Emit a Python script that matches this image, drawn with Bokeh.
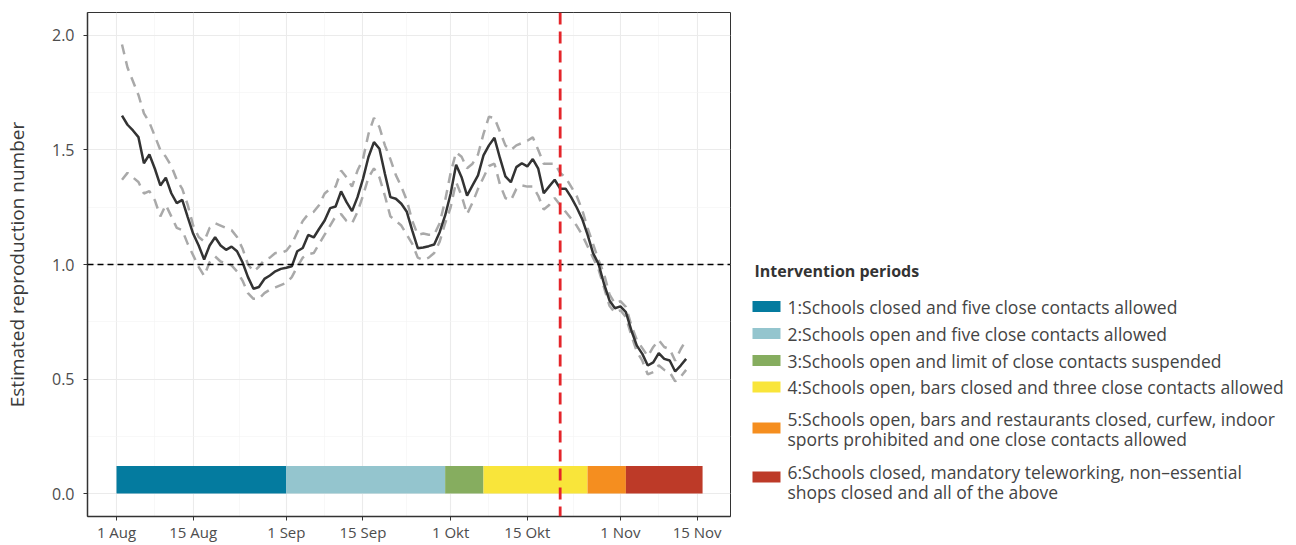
import pandas as pd
from bokeh.plotting import figure
from bokeh.models import Range1d, FixedTicker, Span, NumeralTickFormatter
from bokeh.layouts import row
from bokeh.embed import file_html
from bokeh.resources import INLINE
from bokeh.core.properties import value

# ---------------- data ----------------
origin = "2020-08-01"
first_date = "2020-08-02"

rt_mean = [
    1.650, 1.610, 1.585, 1.556, 1.442, 1.480, 1.418, 1.345, 1.379, 1.311,
    1.268, 1.282, 1.207, 1.134, 1.083, 1.022, 1.083, 1.119, 1.083, 1.064,
    1.078, 1.058, 1.010, 0.945, 0.894, 0.902, 0.937, 0.952, 0.970, 0.981,
    0.986, 0.992, 1.058, 1.072, 1.129, 1.118, 1.156, 1.192, 1.246, 1.253,
    1.319, 1.272, 1.233, 1.294, 1.374, 1.469, 1.534, 1.505, 1.396, 1.294,
    1.287, 1.265, 1.230, 1.148, 1.071, 1.074, 1.080, 1.087, 1.141, 1.214,
    1.309, 1.435, 1.381, 1.301, 1.345, 1.389, 1.476, 1.520, 1.553, 1.465,
    1.385, 1.359, 1.425, 1.442, 1.428, 1.460, 1.418, 1.311, 1.341, 1.370,
    1.331, 1.331, 1.294, 1.250, 1.200, 1.130, 1.050, 1.003, 0.916, 0.843,
    0.809, 0.817, 0.792, 0.712, 0.646, 0.610, 0.559, 0.573, 0.613, 0.588,
    0.581, 0.533, 0.559, 0.588,
]

rt_upper = [
    1.96, 1.86, 1.80, 1.74, 1.66, 1.62, 1.56, 1.50, 1.47, 1.43,
    1.37, 1.33, 1.26, 1.17, 1.12, 1.10, 1.16, 1.18, 1.17, 1.16,
    1.15, 1.12, 1.07, 1.00, 0.97, 0.99, 1.02, 1.03, 1.05, 1.05,
    1.06, 1.09, 1.14, 1.19, 1.22, 1.23, 1.26, 1.31, 1.33, 1.34,
    1.41, 1.38, 1.34, 1.41, 1.46, 1.57, 1.64, 1.60, 1.52, 1.46,
    1.39, 1.34, 1.28, 1.19, 1.13, 1.135, 1.13, 1.13, 1.18, 1.28,
    1.40, 1.49, 1.47, 1.42, 1.44, 1.48, 1.57, 1.645, 1.64, 1.58,
    1.52, 1.50, 1.52, 1.53, 1.54, 1.555, 1.50, 1.44, 1.44, 1.44,
    1.40, 1.38, 1.34, 1.30, 1.24, 1.16, 1.09, 1.02, 0.96, 0.87,
    0.83, 0.84, 0.815, 0.735, 0.67, 0.635, 0.60, 0.64, 0.67, 0.64,
    0.63, 0.58, 0.63, 0.67,
]

rt_lower = [
    1.37, 1.40, 1.38, 1.36, 1.31, 1.32, 1.28, 1.21, 1.26, 1.21,
    1.16, 1.15, 1.09, 1.04, 0.99, 0.95, 1.01, 1.035, 1.013, 1.005,
    0.996, 0.97, 0.93, 0.875, 0.85, 0.85, 0.875, 0.89, 0.90, 0.91,
    0.92, 0.945, 0.99, 1.03, 1.045, 1.05, 1.09, 1.13, 1.17, 1.21,
    1.22, 1.19, 1.18, 1.23, 1.30, 1.38, 1.42, 1.38, 1.30, 1.21,
    1.19, 1.17, 1.13, 1.09, 1.03, 1.02, 1.03, 1.05, 1.10, 1.18,
    1.25, 1.36, 1.30, 1.22, 1.27, 1.33, 1.38, 1.43, 1.44, 1.35,
    1.29, 1.28, 1.33, 1.345, 1.34, 1.34, 1.30, 1.24, 1.26, 1.29,
    1.26, 1.23, 1.20, 1.17, 1.13, 1.08, 1.03, 0.98, 0.90, 0.82,
    0.79, 0.80, 0.77, 0.69, 0.62, 0.58, 0.52, 0.53, 0.56, 0.54,
    0.53, 0.49, 0.51, 0.54,
]

period_labels = [
    "1:Schools closed and five close contacts allowed",
    "2:Schools open and five close contacts allowed",
    "3:Schools open and limit of close contacts suspended",
    "4:Schools open, bars closed and three close contacts allowed",
    "5:Schools open, bars and restaurants closed, curfew, indoor\nsports prohibited and one close contacts allowed",
    "6:Schools closed, mandatory teleworking, non\u2013essential\nshops closed and all of the above",
]
period_colors = ["#047b9f", "#94c5ce", "#86ad5f", "#f9e53a", "#f58e1f", "#bd3a28"]
period_start = ["2020-08-01", "2020-09-01", "2020-09-30", "2020-10-07", "2020-10-26", "2020-11-02"]
period_end = ["2020-09-01", "2020-09-30", "2020-10-07", "2020-10-26", "2020-11-02", "2020-11-16"]
period_bar_height = 0.12

tick_dates = ["2020-08-01", "2020-08-15", "2020-09-01", "2020-09-15",
              "2020-10-01", "2020-10-15", "2020-11-01", "2020-11-15"]
tick_labels = ["1 Aug", "15 Aug", "1 Sep", "15 Sep", "1 Okt", "15 Okt", "1 Nov", "15 Nov"]
marker_date = "2020-10-21"
reference_level = 1.0

# ---------------- helpers ----------------
t0 = pd.Timestamp(origin)


def day(s):
    return (pd.Timestamp(s) - t0).days


dates = pd.date_range(first_date, periods=len(rt_mean), freq="D")
xs = [(d - t0).days for d in dates]

major_x = [day(t) for t in tick_dates]
minor_x = [(a + b) / 2 for a, b in zip(major_x[:-1], major_x[1:])]

FONT = "Open Sans"
TXT = "#4d4d4d"
H = 545
TOP, BOTTOM = 12, 29

p = figure(width=748, height=H,
           x_range=Range1d(-5.3, 112.1), y_range=Range1d(-0.1, 2.1),
           output_backend="svg", toolbar_location=None,
           min_border_left=83, min_border_right=18,
           min_border_top=TOP, min_border_bottom=BOTTOM)

p.background_fill_color = "white"
p.outline_line_color = "#333333"
p.outline_line_width = 1

xt = FixedTicker(ticks=major_x, minor_ticks=minor_x)
p.xaxis.ticker = xt
p.xaxis.major_label_overrides = {int(t): l for t, l in zip(major_x, tick_labels)}
yt = FixedTicker(ticks=[0, 0.5, 1.0, 1.5, 2.0], minor_ticks=[0.25, 0.75, 1.25, 1.75])
p.yaxis.ticker = yt
p.yaxis.formatter = NumeralTickFormatter(format="0.0")

for ax in (p.xaxis[0], p.yaxis[0]):
    ax.axis_line_color = "#333333"
    ax.axis_line_width = 1.5
    ax.major_tick_line_color = "#333333"
    ax.major_tick_line_width = 1
    ax.major_tick_out = 4
    ax.major_tick_in = 0
    ax.minor_tick_line_color = None
    ax.major_label_text_font = FONT
    ax.major_label_text_color = TXT

p.xaxis.major_label_text_font_size = "15px"
p.xaxis.major_label_standoff = 1
p.yaxis.major_label_text_font_size = "16px"
p.yaxis.major_label_standoff = 9

p.yaxis.axis_label = "Estimated reproduction number"
p.yaxis.axis_label_text_font = FONT
p.yaxis.axis_label_text_font_style = "normal"
p.yaxis.axis_label_text_font_size = "19px"
p.yaxis.axis_label_text_color = "#3a3a3a"
p.yaxis.axis_label_standoff = 19

p.xgrid.ticker = xt
p.ygrid.ticker = yt
for g in (p.xgrid[0], p.ygrid[0]):
    g.grid_line_color = "#ebebeb"
    g.grid_line_width = 1.1
    g.minor_grid_line_color = "#f3f3f3"
    g.minor_grid_line_width = 0.6

# intervention bar
p.quad(left=[day(s) for s in period_start], right=[day(e) for e in period_end],
       bottom=0, top=period_bar_height, color=period_colors, line_color=None)

# credible interval
p.line(xs, rt_upper, line_color="#a9a9a9", line_width=2.5, line_dash="10 7")
p.line(xs, rt_lower, line_color="#a9a9a9", line_width=2.5, line_dash="10 7")
# estimate
p.line(xs, rt_mean, line_color="#333333", line_width=2.5)

p.add_layout(Span(location=reference_level, dimension="width", line_color="black",
                  line_width=1.3, line_dash="6 4"))
p.add_layout(Span(location=day(marker_date), dimension="height", line_color="#e4252a",
                  line_width=2.8, line_dash="12 7"))

# ---------------- legend panel (pixel coordinates, frame aligned with main plot) ----------------
LW = 1296 - 748
q = figure(width=LW, height=H, x_range=Range1d(0, LW), y_range=Range1d(H - BOTTOM, TOP),
           output_backend="svg", toolbar_location=None,
           min_border_left=0, min_border_right=0,
           min_border_top=TOP, min_border_bottom=BOTTOM,
           x_axis_location=None, y_axis_location=None)
q.outline_line_color = None
q.grid.grid_line_color = None

q.text(x=[6], y=[270], text=["Intervention periods"], text_font=value(FONT),
       text_font_style="bold", text_font_size="16px", text_color="#333333",
       text_baseline="middle", text_align="left")

key_centers = [306, 333, 360, 386.5, 427.5, 476.5]
first_line_y = [306, 333, 360, 386.5, 418, 471.5]
line_gap = 20
q.rect(x=18, y=key_centers, width=28, height=11, color=period_colors, line_color=None)

lx, ly, lt = [], [], []
for lab, y0 in zip(period_labels, first_line_y):
    for k, part in enumerate(lab.split("\n")):
        lx.append(39)
        ly.append(y0 + k * line_gap)
        lt.append(part)
q.text(x=lx, y=ly, text=lt, text_font=value(FONT), text_font_size="17.5px",
       text_color="#444444", text_baseline="middle", text_align="left")

layout = row(p, q)
open("out.html", "w").write(file_html(layout, INLINE))
